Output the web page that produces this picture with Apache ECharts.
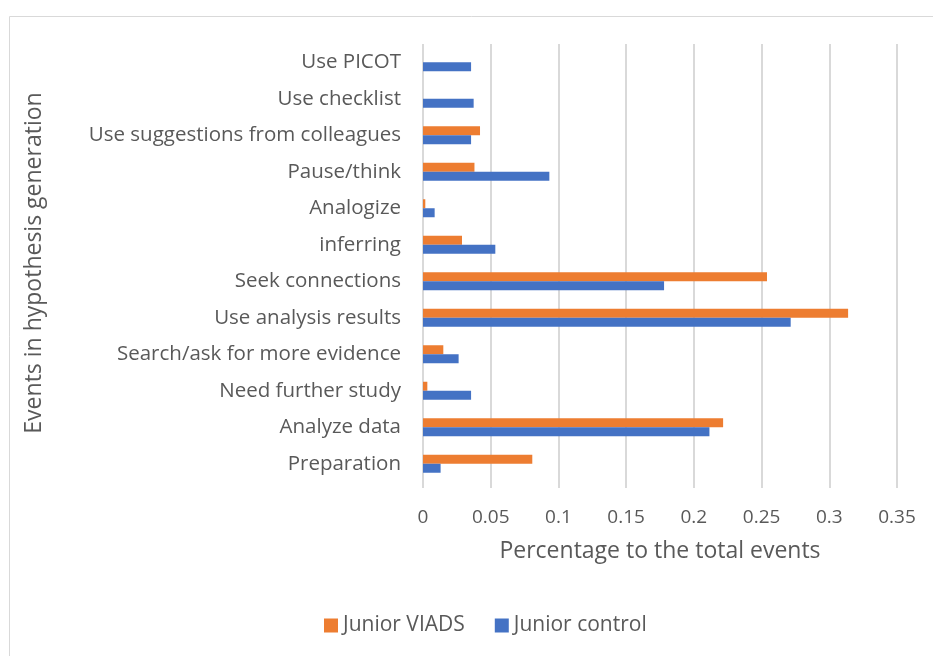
<!DOCTYPE html>
<html><head><meta charset="utf-8">
<script src="https://cdn.jsdelivr.net/npm/echarts@6/dist/echarts.min.js"></script>
<style>html,body{margin:0;padding:0;background:#fff}#c{width:933px;height:656px}</style>
</head><body><div id="c"></div>
<script>
const categories = ["Preparation","Analyze data","Need further study","Search/ask for more evidence","Use analysis results","Seek connections","inferring","Analogize","Pause/think","Use suggestions from colleagues","Use checklist","Use PICOT"];
const juniorVIADS = [0.0807,0.2216,0.0032,0.015,0.3139,0.254,0.0288,0.0017,0.038,0.0421,0,0];
const juniorControl = [0.013,0.2115,0.0355,0.0263,0.2715,0.178,0.0534,0.0086,0.0933,0.0355,0.0374,0.0355];
const xTicks = [0,0.05,0.1,0.15,0.2,0.25,0.3,0.35];
const font = "'Open Sans', sans-serif";
const chart = echarts.init(document.getElementById('c'));
chart.setOption({
  animation:false,
  graphic:[{type:'rect',left:7,top:14,shape:{width:1000,height:1000},style:{fill:'none',stroke:'#D9D9D9',lineWidth:1},silent:true,z:-1}],
  legend:{bottom:15,left:319,itemWidth:14,itemHeight:14,itemGap:30,icon:'rect',data:['Junior VIADS','Junior control'],textStyle:{fontFamily:font,fontSize:21,color:'#595959'}},
  grid:{left:423,right:36,top:44,bottom:174},
  xAxis:{type:'value',min:0,max:0.35,interval:0.05,
    name:'Percentage to the total events',nameLocation:'middle',nameGap:58,
    nameTextStyle:{fontFamily:font,fontSize:23,color:'#595959'},
    axisLine:{show:false},axisTick:{show:true,length:6,lineStyle:{color:'#D9D9D9',width:2}},
    splitLine:{lineStyle:{color:'#D9D9D9',width:2}},
    axisLabel:{fontFamily:font,fontSize:19,color:'#595959',margin:26,formatter:v=>String(+v.toFixed(2))}},
  yAxis:{type:'category',data:categories,
    name:'Events in hypothesis generation',nameLocation:'middle',nameGap:377,nameRotate:90,
    nameTextStyle:{fontFamily:font,fontSize:23,color:'#595959'},
    axisLine:{show:false},axisTick:{show:false},
    axisLabel:{fontFamily:font,fontSize:20.5,color:'#595959',margin:22}},
  series:[
    {name:'Junior VIADS',type:'bar',data:juniorVIADS,barWidth:9,barGap:'0%',itemStyle:{color:'#ED7D31'}},
    {name:'Junior control',type:'bar',data:juniorControl,barWidth:9,barGap:'0%',itemStyle:{color:'#4472C4'}}
  ]
});
</script></body></html>
